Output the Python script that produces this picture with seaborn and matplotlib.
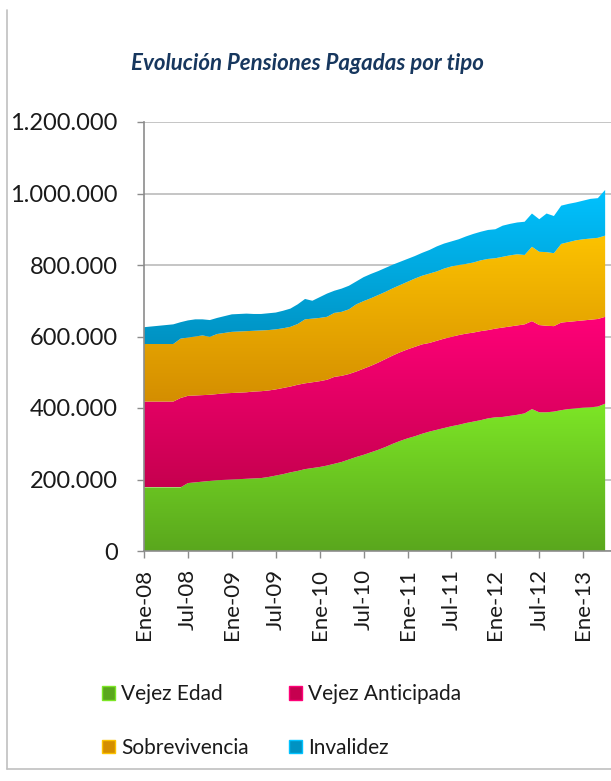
import matplotlib
matplotlib.use("Agg")
import matplotlib.pyplot as plt
import numpy as np
import seaborn as sns
from matplotlib.colors import LinearSegmentedColormap
from matplotlib.lines import Line2D
from matplotlib.patches import Patch
from matplotlib.ticker import FuncFormatter

# monthly values, thousands of pensions, Ene-08 .. Abr-13
vejez_edad = [178, 178, 178, 178, 178, 178, 190, 192, 194, 196, 198, 199, 200, 201, 202, 203,
              204, 207, 211, 215, 220, 224, 229, 232, 235, 239, 244, 249, 256, 263, 269, 276,
              283, 291, 300, 308, 315, 321, 328, 334, 339, 344, 349, 353, 358, 362, 366, 371,
              374, 375, 378, 381, 385, 397, 388, 388, 390, 394, 397, 399, 401, 402, 404, 412]
vejez_anticipada = [240, 240, 240, 240, 240, 250, 244, 243, 242, 241, 241, 242, 242, 242, 242, 243,
                    243, 242, 241, 241, 240, 241, 240, 240, 240, 240, 243, 241, 239, 239, 241, 242,
                    244, 246, 247, 248, 249, 250, 250, 248, 249, 250, 250, 251, 250, 249, 249, 247,
                    248, 250, 250, 250, 249, 246, 244, 242, 239, 245, 244, 244, 244, 245, 245, 243]
sobrevivencia = [161, 161, 161, 161, 161, 166, 163, 165, 167, 162, 168, 169, 171, 171, 171, 170,
                 170, 169, 168, 167, 167, 170, 179, 178, 177, 176, 179, 179, 181, 188, 189, 189,
                 189, 188, 188, 188, 189, 191, 192, 194, 194, 196, 197, 196, 195, 196, 198, 199,
                 197, 198, 199, 199, 194, 208, 205, 206, 204, 220, 223, 226, 227, 227, 227, 227]
invalidez = [47, 49, 51, 53, 55, 46, 48, 48, 45, 47, 45, 47, 49, 49, 49, 47,
             46, 47, 47, 49, 51, 55, 57, 50, 58, 65, 62, 65, 66, 64, 67, 68,
             67, 67, 66, 65, 64, 63, 64, 66, 70, 70, 70, 72, 77, 80, 80, 81,
             81, 87, 88, 89, 93, 93, 91, 108, 104, 107, 107, 106, 108, 111, 111, 128]

series_names = ["Vejez Edad", "Vejez Anticipada", "Sobrevivencia", "Invalidez"]
tick_labels = ["Ene-08", "Jul-08", "Ene-09", "Jul-09", "Ene-10", "Jul-10",
               "Ene-11", "Jul-11", "Ene-12", "Jul-12", "Ene-13"]

# (top colour, bottom colour) of each gradient band
gradients = [("#7de626", "#5aa71d"), ("#ff0078", "#c6004f"),
             ("#fcc200", "#d48e00"), ("#00c2ff", "#0092c2")]

sns.set_theme(style="white")
plt.rcParams["font.family"] = ["Lato", "DejaVu Sans"]

fig = plt.figure(figsize=(6.11, 7.81), dpi=100)
ax = fig.add_axes([144 / 611, 1 - 551 / 781, 467 / 611, 429 / 781])

months = np.arange(len(vejez_edad))
values = [np.array(s) * 1000 for s in (vejez_edad, vejez_anticipada, sobrevivencia, invalidez)]
polys = ax.stackplot(months, *values, colors=[g[0] for g in gradients], zorder=2)

# vertical gradient per band, clipped to the band's outline
grad = np.linspace(0, 1, 256).reshape(-1, 1)
for poly, (top, bottom) in zip(polys, gradients):
    path = poly.get_paths()[0]
    ys = path.vertices[:, 1]
    cmap = LinearSegmentedColormap.from_list("band", [bottom, top])
    im = ax.imshow(grad, cmap=cmap, aspect="auto", origin="lower",
                   extent=(months[0], months[-1], ys.min(), ys.max()), zorder=2)
    im.set_clip_path(path, ax.transData)
    poly.set_visible(False)

ax.set_xlim(0, 63.8)
ax.set_ylim(0, 1_200_000)
ax.set_yticks(np.arange(0, 1_200_001, 200_000))
ax.yaxis.set_major_formatter(FuncFormatter(lambda v, _: f"{int(v):,}".replace(",", ".")))
ax.set_xticks(months[::6])
ax.set_xticklabels(tick_labels, rotation=90)

ax.grid(axis="y", color="#c0c0c0", linewidth=1.3, zorder=0)
ax.set_axisbelow(True)
for side in ["top", "right"]:
    ax.spines[side].set_visible(False)
for side in ["left", "bottom"]:
    ax.spines[side].set_color("#8c8c8c")
    ax.spines[side].set_linewidth(1.2)
ax.tick_params(axis="y", which="major", left=True, length=5, width=1, color="#8c8c8c",
               pad=14, labelsize=17, labelcolor="#1a1a1a")
ax.tick_params(axis="x", which="major", bottom=True, length=5, width=1, color="#8c8c8c",
               pad=8, labelsize=16, labelcolor="#1a1a1a")

fig.text(307 / 611, 1 - 63 / 781, "Evolución Pensiones Pagadas por tipo", ha="center", va="center",
         fontsize=16, fontweight="bold", fontstyle="italic", color="#17375e")

handles = [Patch(facecolor=g[1], edgecolor=g[0]) for g in gradients]
order = [0, 2, 1, 3]
fig.legend([handles[i] for i in order], [series_names[i] for i in order], ncol=2,
           loc="upper left", bbox_to_anchor=(92 / 611, 1 - 674 / 781), frameon=False,
           fontsize=15, handlelength=0.6, handleheight=0.6, handletextpad=0.3,
           columnspacing=1.95, labelspacing=1.6, borderpad=0, labelcolor="#1a1a1a")

# outer chart border
fig.add_artist(Line2D([7 / 611, 7 / 611], [1 - 769 / 781, 1 - 10 / 781], color="#c0c0c0", linewidth=1.2))
fig.add_artist(Line2D([7 / 611, 1], [1 - 769 / 781, 1 - 769 / 781], color="#c0c0c0", linewidth=1.2))

fig.savefig("out.png", dpi=100)
